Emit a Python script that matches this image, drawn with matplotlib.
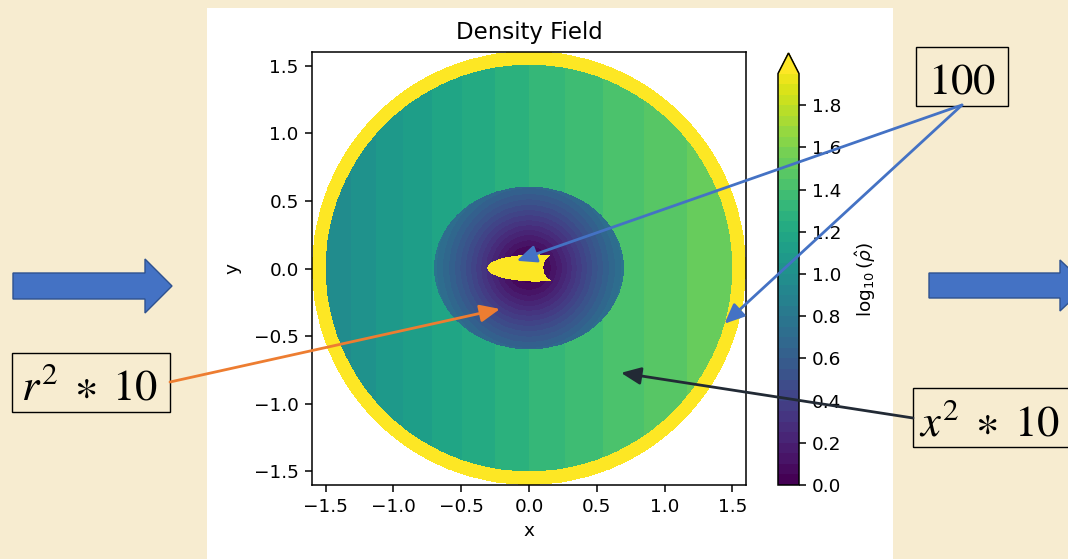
import numpy as np
import matplotlib
matplotlib.use("Agg")
import matplotlib.pyplot as plt
from matplotlib.colors import BoundaryNorm
from matplotlib.patches import Rectangle, Polygon, ConnectionPatch

# ---- density model -------------------------------------------------------
ring_density = 100.0            # thin shell at the edge and the hot spot
core_coef = 10.0                # core:      rho = 10 * r^2 (+ floor)
core_floor = 1.0
envelope_coef = 10.0            # envelope:  rho = 10 * x^2
core_semi_axes = [0.70, 0.60]
envelope_radius = 1.5
ring_radius = 1.6
x_phys_offset = 1.413           # envelope x in physical units
x_phys_scale = 0.314
spot_center = [0.05, 0.0]
spot_semi_axes = [0.356, 0.10]
notch_center = [0.211, 0.002]
notch_radius = 0.105

levels = np.round(np.arange(0.0, 1.951, 0.05), 2)
cbar_ticks = [0.0, 0.2, 0.4, 0.6, 0.8, 1.0, 1.2, 1.4, 1.6, 1.8]
axis_ticks = [-1.5, -1.0, -0.5, 0.0, 0.5, 1.0, 1.5]
axis_lim = [-1.6, 1.6]

# ---- figure geometry (pixels) ----------------------------------------------
W, H = 1068, 559
def fx(px):
    return px / W
def fy(py):
    return 1.0 - py / H

BG = "#f7ecd0"
fig = plt.figure(figsize=(W / 100, H / 100), dpi=100, facecolor=BG)

# white panel holding the plot
fig.add_artist(Rectangle((fx(207), fy(559)), fx(893) - fx(207), fy(8) - fy(559),
                         transform=fig.transFigure, facecolor="white",
                         edgecolor="none", zorder=-5))

ax = fig.add_axes([fx(312), fy(485), fx(746) - fx(312), fy(52) - fy(485)])
cax = fig.add_axes([fx(778), fy(485), fx(799) - fx(778), fy(53) - fy(485)])

# ---- field -----------------------------------------------------------------
n = 1400
g = np.linspace(axis_lim[0], axis_lim[1], n)
X, Y = np.meshgrid(g, g)
R = np.hypot(X, Y)

x_phys = x_phys_offset + x_phys_scale * X
rho = envelope_coef * x_phys ** 2
core = (X / core_semi_axes[0]) ** 2 + (Y / core_semi_axes[1]) ** 2 <= 1.0
rho = np.where(core, core_floor + core_coef * R ** 2, rho)
spot = (((X - spot_center[0]) / spot_semi_axes[0]) ** 2 +
        ((Y - spot_center[1]) / spot_semi_axes[1]) ** 2 <= 1.0)
notch = ((np.hypot(X - notch_center[0], Y - notch_center[1]) < notch_radius)
         | (X > notch_center[0]))
rho = np.where(spot & ~notch, ring_density, rho)
rho = np.where(R >= envelope_radius, ring_density, rho)
logrho = np.log10(rho)
logrho = np.ma.masked_where(R > ring_radius, logrho)

cmap = plt.get_cmap("viridis")
norm = BoundaryNorm(levels, ncolors=cmap.N, extend="max")
im = ax.imshow(logrho, origin="lower", extent=[*axis_lim, *axis_lim],
               cmap=cmap, norm=norm, interpolation="nearest", aspect="auto")

ax.set_xlim(axis_lim)
ax.set_ylim(axis_lim)
ax.set_xticks(axis_ticks)
ax.set_yticks(axis_ticks)
ax.tick_params(labelsize=13.3, length=5, width=1.1, pad=4.5)
for s in ax.spines.values():
    s.set_linewidth(1.1)
ax.set_xlabel("x", fontsize=13.3, labelpad=4)
ax.set_ylabel("y", fontsize=13.3, labelpad=9)
ax.set_title("Density Field", fontsize=16.5, pad=9)

cb = fig.colorbar(im, cax=cax, extend="max", ticks=cbar_ticks)
cb.minorticks_off()
cb.ax.tick_params(labelsize=13.3, length=5, width=1.1, pad=4.5)
cb.outline.set_linewidth(1.1)
cb.set_label(r"$\log_{10}(\hat{\rho})$", fontsize=13.3, labelpad=8)

# ---- slide decorations ------------------------------------------------------
BLUE = "#4472c4"
BLUE_EDGE = "#2f528f"

def block_arrow(x0, xh, ytop, ybot, htop, hbot, tip):
    ymid = 0.5 * (ytop + ybot)
    pts = [(x0, ytop), (xh, ytop), (xh, htop), (tip, ymid), (xh, hbot),
           (xh, ybot), (x0, ybot)]
    fig.add_artist(Polygon([(fx(px), fy(py)) for px, py in pts], closed=True,
                           transform=fig.transFigure, facecolor=BLUE,
                           edgecolor=BLUE_EDGE, lw=1.0, zorder=5))

block_arrow(13, 145, 273, 299, 259, 313, 172)
block_arrow(929, 1060, 273, 298, 260, 311, 1087)

def label_box(x0, y0, x1, y1, text, tx, ty, ha):
    fig.add_artist(Rectangle((fx(x0), fy(y1)), fx(x1) - fx(x0), fy(y0) - fy(y1),
                             transform=fig.transFigure, facecolor="none",
                             edgecolor="black", lw=1.0, zorder=5))
    fig.text(fx(tx), fy(ty), text, ha=ha, va="baseline", fontsize=32,
             math_fontfamily="stix", color="black", zorder=6)

label_box(916, 47, 1008, 106, r"$100$", 962, 93, "center")
label_box(12, 353, 170, 412, r"$r^{2}\;\ast\;10$", 90, 399, "center")
label_box(913, 388, 1080, 447, r"$x^{2}\;\ast\;10$", 919, 435, "left")

def pointer(start_px, tip_data, color):
    con = ConnectionPatch(xyA=(fx(start_px[0]), fy(start_px[1])),
                          coordsA="figure fraction",
                          xyB=tip_data, coordsB="data", axesB=ax,
                          arrowstyle="-|>,head_length=0.8,head_width=0.35",
                          mutation_scale=15, color=color, lw=2.0,
                          shrinkA=0, shrinkB=0, zorder=7)
    fig.add_artist(con)

pointer((962, 105), (-0.091, 0.057), BLUE)
pointer((962, 105), (1.441, -0.408), BLUE)
pointer((170, 382), (-0.214, -0.299), "#ed7d31")
pointer((913, 418), (0.678, -0.771), "#222a35")

fig.savefig("out.png", dpi=100, facecolor=BG)
